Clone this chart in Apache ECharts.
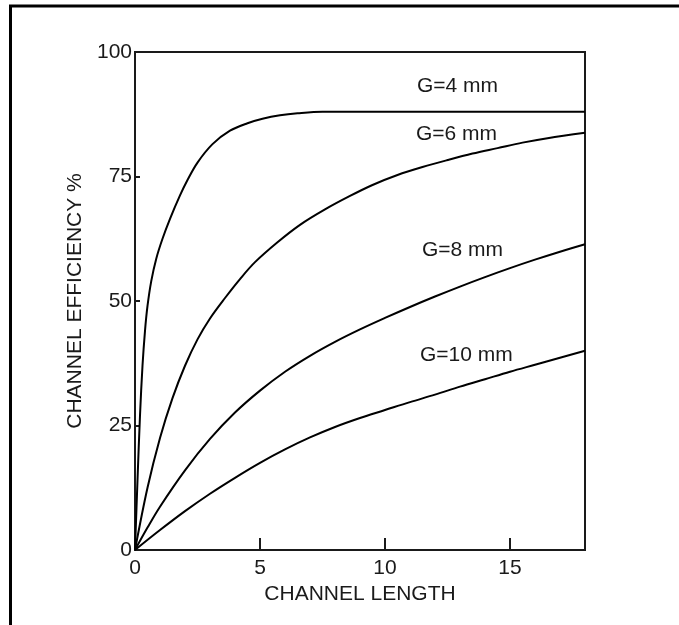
<!DOCTYPE html>
<html>
<head>
<meta charset="utf-8">
<script src="https://cdn.jsdelivr.net/npm/echarts@6/dist/echarts.min.js"></script>
<style>
html,body{margin:0;padding:0;background:#fff;}
#chart{width:679px;height:625px;}
</style>
</head>
<body>
<div id="chart"></div>
<script>
var xTickInterval = 5;
var xMax = 18;
var yTickInterval = 25;
var yMax = 100;

var g4X = [0, 0.1, 0.2, 0.3, 0.4, 0.5, 0.65, 0.85, 1.1, 1.4, 1.8, 2.1, 2.5, 3.1, 3.8, 4.5, 5.1, 5.8, 6.5, 7.5, 9, 12, 15, 18];
var g4Y = [0, 14, 27, 37, 44, 49, 54, 58.5, 62.5, 66.5, 71.2, 74.3, 77.8, 81.5, 84.2, 85.7, 86.6, 87.3, 87.7, 88, 88, 88, 88, 88];

var g6X = [0, 0.5, 1, 1.5, 2, 2.5, 3, 3.6, 4.2, 4.8, 5.7, 6.6, 7.6, 8.6, 9.5, 10.5, 11.5, 12.5, 13.5, 14.5, 15.5, 16.5, 18];
var g6Y = [0, 12.5, 22.5, 30.5, 37, 42.3, 46.5, 50.6, 54.4, 57.8, 61.8, 65.3, 68.4, 71.1, 73.3, 75.3, 76.9, 78.3, 79.6, 80.7, 81.8, 82.7, 83.8];

var g8X = [0, 0.5, 1, 2, 3, 4, 5, 6, 7, 8, 9, 10, 11, 12, 13, 14, 15, 16, 17, 18];
var g8Y = [0, 4.5, 8.7, 16, 22.3, 27.6, 32, 35.8, 39, 41.8, 44.3, 46.6, 48.8, 50.9, 52.9, 54.8, 56.6, 58.3, 59.9, 61.4];

var g10X = [0, 1, 2, 3, 4, 5, 6, 7, 8, 9, 10, 11, 12, 13, 14, 15, 16, 17, 18];
var g10Y = [0, 4, 7.8, 11.3, 14.5, 17.5, 20.2, 22.6, 24.7, 26.5, 28.1, 29.7, 31.2, 32.8, 34.3, 35.8, 37.2, 38.6, 40];

var curveLabels = ['G=4 mm', 'G=6 mm', 'G=8 mm', 'G=10 mm'];
var xAxisTitle = 'CHANNEL LENGTH';
var yAxisTitle = 'CHANNEL EFFICIENCY %';

function pairs(xs, ys) {
  return xs.map(function (x, i) { return [x, ys[i]]; });
}

var FONT = 'Arial, "Liberation Sans", sans-serif';
var INK = '#1a1a1a';

var seriesData = [pairs(g4X, g4Y), pairs(g6X, g6Y), pairs(g8X, g8Y), pairs(g10X, g10Y)];
var labelPos = [[417, 76], [416, 124], [422, 240], [420, 345]];

var chart = echarts.init(document.getElementById('chart'), null, {renderer: 'canvas'});

var option = {
  animation: false,
  backgroundColor: '#ffffff',
  grid: {
    left: 135, right: 94, top: 52, bottom: 75,
    show: true, borderColor: INK, borderWidth: 2, backgroundColor: 'transparent'
  },
  xAxis: {
    type: 'value', min: 0, max: xMax, interval: xTickInterval,
    name: xAxisTitle, nameLocation: 'middle', nameGap: 32,
    nameTextStyle: {fontSize: 21, color: INK, fontFamily: FONT},
    axisLine: {show: true, onZero: false, lineStyle: {color: INK, width: 2}},
    axisTick: {show: true, inside: true, length: 12, lineStyle: {color: INK, width: 2}},
    axisLabel: {fontSize: 21, color: INK, fontFamily: FONT, margin: 8, showMaxLabel: false},
    splitLine: {show: false}
  },
  yAxis: {
    type: 'value', min: 0, max: yMax, interval: yTickInterval,
    name: yAxisTitle, nameLocation: 'middle', nameGap: 42, nameRotate: 90,
    nameTextStyle: {fontSize: 21, color: INK, fontFamily: FONT},
    axisLine: {show: true, onZero: false, lineStyle: {color: INK, width: 2}},
    axisTick: {show: true, inside: true, length: 5, lineStyle: {color: INK, width: 2}},
    axisLabel: {fontSize: 21, color: INK, fontFamily: FONT, margin: 3},
    splitLine: {show: false}
  },
  series: seriesData.map(function (d, i) {
    return {
      type: 'line', name: curveLabels[i], data: d, smooth: 0.35,
      symbol: 'none', lineStyle: {color: '#000', width: 2}, z: 3
    };
  }),
  graphic: [
    {type: 'line', shape: {x1: 9, y1: 6, x2: 679, y2: 6}, style: {stroke: '#000', lineWidth: 3}},
    {type: 'line', shape: {x1: 10.5, y1: 5, x2: 10.5, y2: 625}, style: {stroke: '#000', lineWidth: 3}}
  ].concat(curveLabels.map(function (t, i) {
    return {type: 'text', left: labelPos[i][0], top: labelPos[i][1],
      style: {text: t, fontSize: 21, fill: INK, fontFamily: FONT}};
  }))
};
chart.setOption(option);
</script>
</body>
</html>
